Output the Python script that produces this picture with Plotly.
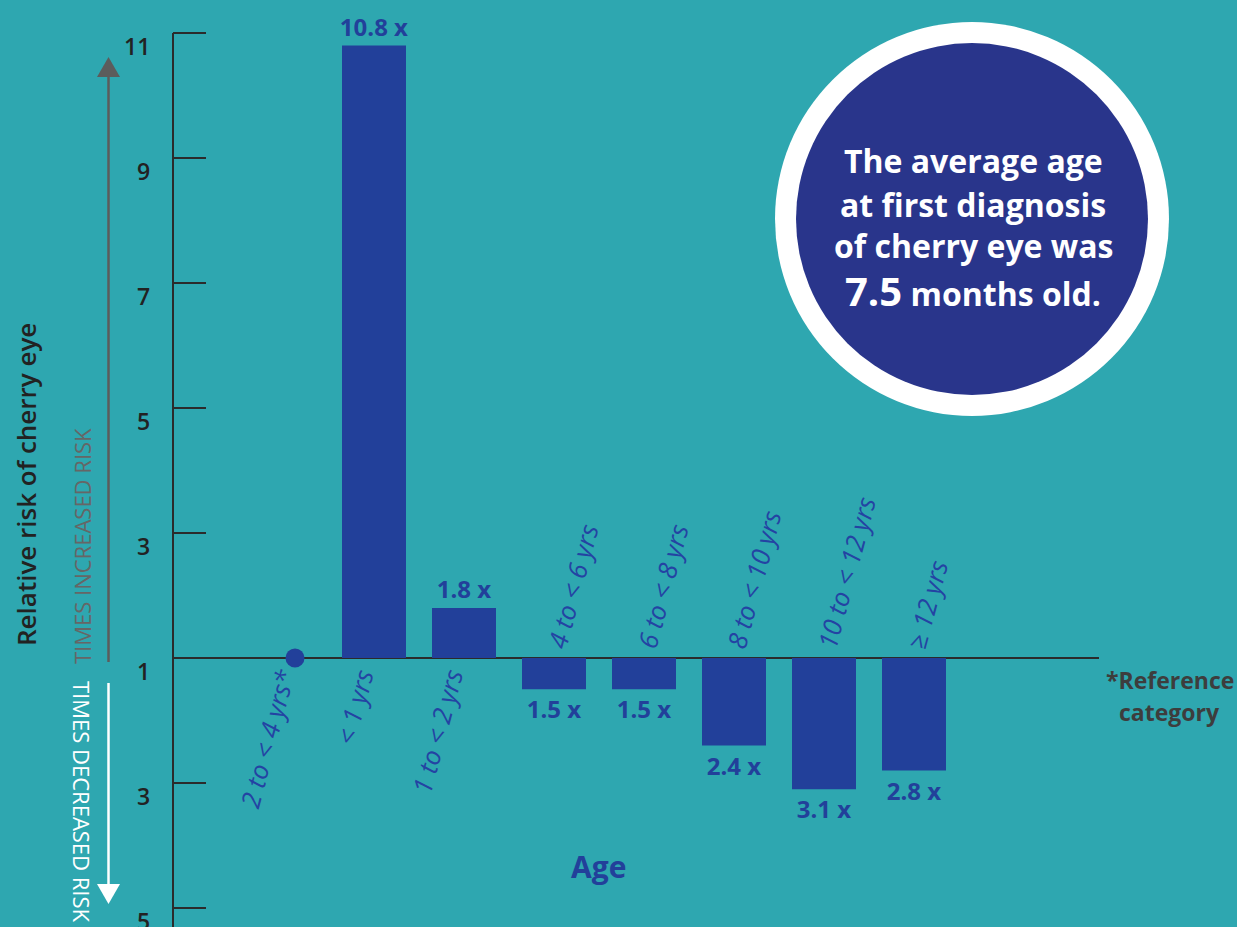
import plotly.graph_objects as go

# ---------------- data ----------------
categories = ["2 to < 4 yrs*", "< 1 yrs", "1 to < 2 yrs", "4 to < 6 yrs",
              "6 to < 8 yrs", "8 to < 10 yrs", "10 to < 12 yrs", "≥ 12 yrs"]
risk_ratio = [1.0, 10.8, 1.8, 1.5, 1.5, 2.4, 3.1, 2.8]
direction = [0, 1, 1, -1, -1, -1, -1, -1]   # 0 = reference, 1 = increased, -1 = decreased
tick_labels = ["11", "9", "7", "5", "3", "1", "3", "5"]
tick_dirs = [1, 1, 1, 1, 1, 1, -1, -1]

# ---------------- styling ----------------
TEAL = "#2ea7b0"
BAR = "#22409a"
LABEL = "#2443a3"
NAVY = "#29358b"
DARK = "#222222"
AXIS = "#2b2b2b"
FONT = "Open Sans"

W, H, L = 1237, 927, 173


def fx(p):
    return (p - L) / (W - L)


def fy(p):
    return 1 - p / H


signed = [(r - 1) * d for r, d in zip(risk_ratio, direction)]
tick_vals = [(float(t) - 1) * d for t, d in zip(tick_labels, tick_dirs)]

bar_x = [c for c, d in zip(categories, direction) if d != 0]
bar_y = [s for s, d in zip(signed, direction) if d != 0]
bar_txt = [f"{r:.1f} x" for r, d in zip(risk_ratio, direction) if d != 0]
ref_x = [c for c, d in zip(categories, direction) if d == 0]
ref_y = [s for s, d in zip(signed, direction) if d == 0]

fig = go.Figure()
fig.add_trace(go.Bar(
    x=bar_x, y=bar_y, text=bar_txt, textposition="outside",
    textfont=dict(family=FONT, size=24, color=BAR, weight=700),
    marker=dict(color=BAR, line=dict(width=0)), width=0.711,
    cliponaxis=False, constraintext="none", hoverinfo="skip",
))
fig.add_trace(go.Scatter(
    x=ref_x, y=ref_y, xaxis="x2", mode="markers",
    marker=dict(size=19, color=BAR), cliponaxis=False, hoverinfo="skip",
))

xr = [-1.2333, 10.589]
shift = 11 / 90
fig.update_layout(
    width=W, height=H, margin=dict(l=L, r=0, t=0, b=0),
    paper_bgcolor=TEAL, plot_bgcolor=TEAL, showlegend=False,
    xaxis=dict(type="category", categoryorder="array", categoryarray=categories,
               range=xr, visible=False),
    xaxis2=dict(type="category", categoryorder="array", categoryarray=categories,
                range=[xr[0] - shift, xr[1] - shift], overlaying="x", visible=False),
    yaxis=dict(range=[-4.304, 10.528], tickvals=tick_vals, ticktext=tick_labels,
               ticks="inside", ticklen=33, tickwidth=1.5, tickcolor=AXIS,
               showgrid=False, zeroline=False, showline=False, showticklabels=False),
)

shapes = []
# baseline at relative risk 1
shapes.append(dict(type="line", xref="paper", yref="y", x0=0, x1=fx(1099), y0=0, y1=0,
                   line=dict(color=AXIS, width=2), layer="below"))
# y axis line
shapes.append(dict(type="line", xref="paper", yref="paper", x0=0, x1=0, y0=fy(33), y1=0,
                   line=dict(color=AXIS, width=2)))
# increased risk arrow (grey)
shapes.append(dict(type="line", xref="paper", yref="paper", x0=fx(108.5), x1=fx(108.5),
                   y0=fy(662), y1=fy(76), line=dict(color="#5c5c5c", width=2.5)))
shapes.append(dict(type="path", xref="paper", yref="paper",
                   path=f"M {fx(97)} {fy(77)} L {fx(120)} {fy(77)} L {fx(108.5)} {fy(57)} Z",
                   fillcolor="#5c5c5c", line=dict(width=0)))
# decreased risk arrow (white)
shapes.append(dict(type="line", xref="paper", yref="paper", x0=fx(108.5), x1=fx(108.5),
                   y0=fy(683), y1=fy(886), line=dict(color="white", width=2.5)))
shapes.append(dict(type="path", xref="paper", yref="paper",
                   path=f"M {fx(97)} {fy(884)} L {fx(120)} {fy(884)} L {fx(108.5)} {fy(904)} Z",
                   fillcolor="white", line=dict(width=0)))
# info circle
cx, cy = 972, 219
for r, col in [(197, "white"), (176, NAVY)]:
    shapes.append(dict(type="circle", xref="paper", yref="paper",
                       x0=fx(cx - r), x1=fx(cx + r), y0=fy(cy + r), y1=fy(cy - r),
                       fillcolor=col, line=dict(width=0)))
fig.update_layout(shapes=shapes)

ann = []
# y tick labels (drawn as annotations so the bottom one stays visible)
for v, t in zip(tick_vals, tick_labels):
    ann.append(dict(x=0, y=v, xref="paper", yref="y", text=t, showarrow=False,
                    xanchor="right", yanchor="middle", xshift=-21, yshift=-13,
                    font=dict(family=FONT, size=23, color=DARK, weight=600)))

CAT_SIZE = 26
# category labels
for c, d in zip(categories, direction):
    if d == -1:
        ann.append(dict(x=c, y=0, xref="x", yref="y", text=c, showarrow=False,
                        textangle=-75, xanchor="left", yanchor="bottom",
                        xshift=-18, yshift=3,
                        font=dict(family=FONT, size=CAT_SIZE, color=LABEL, style="italic")))
    else:
        ann.append(dict(x=c, y=0, xref="x2" if d == 0 else "x", yref="y", text=c,
                        showarrow=False, textangle=-75, xanchor="right", yanchor="top",
                        xshift=10, yshift=-5,
                        font=dict(family=FONT, size=CAT_SIZE, color=LABEL, style="italic")))


def txt(x, y, s, size, color, weight=400, angle=0):
    ann.append(dict(x=fx(x), y=fy(y), xref="paper", yref="paper", text=s, showarrow=False,
                    xanchor="center", yanchor="middle", textangle=angle,
                    font=dict(family=FONT, size=size, color=color, weight=weight)))


txt(26, 485, "Relative risk of cherry eye", 26, DARK, 600, -90)
txt(82, 546, "TIMES INCREASED RISK", 22, "#666666", 400, -90)
txt(82, 802, "TIMES DECREASED RISK", 22, "white", 400, 90)
txt(598, 866, "Age", 30, BAR, 700)
txt(1170, 680, "*Reference", 23, "#3d3d3d", 700)
txt(1169, 712, "category", 23, "#3d3d3d", 700)
txt(973, 160, "The average age", 32, "white", 700)
txt(973, 204, "at first diagnosis", 32, "white", 700)
txt(973, 246, "of cherry eye was", 32, "white", 700)
txt(973, 291, "<span style='font-size:40px'>7.5</span> months old.", 32, "white", 700)

fig.update_layout(annotations=ann)
fig.write_html("out.html")
